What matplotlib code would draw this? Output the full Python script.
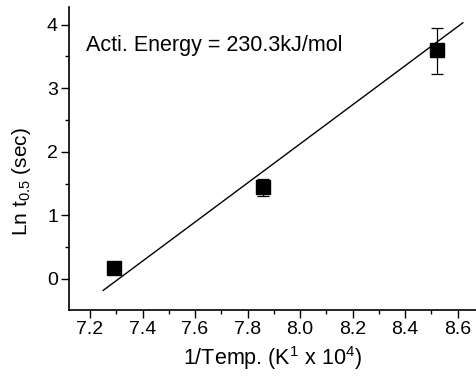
import numpy as np
import matplotlib
matplotlib.use('Agg')
import matplotlib.pyplot as plt
from matplotlib.ticker import MultipleLocator

plt.rcParams['font.family'] = ['Liberation Sans', 'DejaVu Sans']
plt.rcParams['mathtext.default'] = 'regular'

# data
inv_temp = [7.29, 7.86, 8.52]
ln_t = [0.18, 1.44, 3.60]
err_lo = [0.0, 0.14, 0.37]
err_hi = [0.0, 0.14, 0.35]

# fitted line end points
fit_x = [7.25, 8.62]
fit_y = [-0.18, 4.03]

fig = plt.figure(figsize=(4.76, 3.81), dpi=100)
ax = fig.add_axes([0.145, 0.186, 0.855, 0.796])

ax.plot(fit_x, fit_y, color='black', lw=1.0)
ax.errorbar(inv_temp, ln_t, yerr=[err_lo, err_hi], fmt='s', color='black',
            ms=9.5, elinewidth=0.9, capsize=4.3, capthick=0.9)

ax.set_xlim(7.12, 8.67)
ax.set_ylim(-0.49, 4.28)
ax.xaxis.set_major_locator(MultipleLocator(0.2))
ax.xaxis.set_minor_locator(MultipleLocator(0.1))
ax.yaxis.set_major_locator(MultipleLocator(1))
ax.yaxis.set_minor_locator(MultipleLocator(0.5))
ax.tick_params(which='major', direction='out', length=6, width=1, labelsize=14, pad=2)
ax.tick_params(which='minor', direction='out', length=3, width=1)

ax.spines['top'].set_visible(False)
ax.spines['right'].set_visible(False)
ax.spines['left'].set_linewidth(1.2)
ax.spines['bottom'].set_linewidth(1.2)

ax.set_xlabel('1/Temp. (K$^1$ x 10$^4$)', fontsize=15.5, labelpad=4)
ax.set_ylabel('Ln t$_{0.5}$ (sec)', fontsize=15)
ax.yaxis.set_label_coords(-0.088, 0.425)
ax.text(7.185, 3.58, 'Acti. Energy = 230.3kJ/mol', fontsize=15.5, va='baseline')

fig.savefig('out.png', dpi=100)
